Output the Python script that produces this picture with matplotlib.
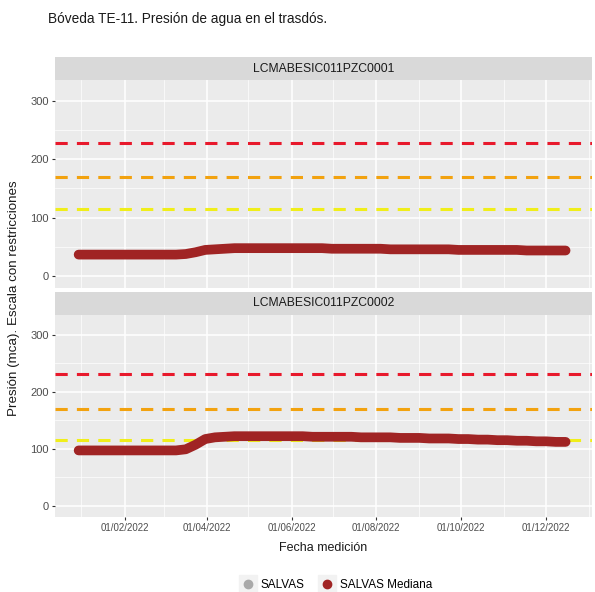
import matplotlib.pyplot as plt
import matplotlib.dates as mdates
import pandas as pd
from matplotlib.lines import Line2D
from matplotlib.legend_handler import HandlerTuple

plt.rcParams['font.family'] = ['Liberation Sans', 'DejaVu Sans']

# datos (lecturas semanales aproximadas)
fechas = pd.date_range("2021-12-30", periods=51, freq="7D")

sensores = ["LCMABESIC011PZC0001", "LCMABESIC011PZC0002"]

pzc0001 = [37, 37, 37, 37, 37, 37, 37, 37, 37, 37, 37, 38, 41, 45, 46, 47, 48,
           48, 48, 48, 48, 48, 48, 48, 48, 48, 47, 47, 47, 47, 47, 47, 46, 46,
           46, 46, 46, 46, 46, 45, 45, 45, 45, 45, 45, 45, 44, 44, 44, 44, 44]

pzc0002 = [97, 97, 97, 97, 97, 97, 97, 97, 97, 97, 97, 99, 107, 117, 120, 121,
           122, 122, 122, 122, 122, 122, 122, 122, 121, 121, 121, 121, 121, 120,
           120, 120, 120, 119, 119, 119, 118, 118, 118, 117, 117, 116, 116, 115,
           115, 114, 114, 113, 113, 112, 112]

# umbrales: rojo, naranja, amarillo
umbrales = {
    "LCMABESIC011PZC0001": [228, 170, 115],
    "LCMABESIC011PZC0002": [231, 170, 115],
}
colores_umbral = ["#e8192c", "#f2a20f", "#f0ee1a"]

series = [pzc0001, pzc0002]

fig = plt.figure(figsize=(5.95, 5.92), dpi=100)

W, H = 595, 592
left, right = 55, 592
paneles = [(80, 288, 57), (315, 517, 292)]  # top, bottom, strip top

xmin = pd.Timestamp("2021-12-13")
xmax = pd.Timestamp("2023-01-03")

for i, (top, bottom, stop) in enumerate(paneles):
    ax = fig.add_axes([left / W, 1 - bottom / H, (right - left) / W, (bottom - top) / H])
    ax.set_facecolor("#ebebeb")
    for s in ax.spines.values():
        s.set_visible(False)
    ax.set_xlim(xmin, xmax)
    ax.set_ylim(-20, 335)
    ax.set_yticks([0, 100, 200, 300])
    ax.set_yticks([50, 150, 250], minor=True)
    ax.xaxis.set_major_locator(mdates.MonthLocator(bymonth=[2, 4, 6, 8, 10, 12]))
    ax.xaxis.set_minor_locator(mdates.MonthLocator(bymonth=[1, 3, 5, 7, 9, 11]))
    ax.xaxis.set_major_formatter(mdates.DateFormatter("%d/%m/%Y"))
    ax.grid(True, which="major", color="white", lw=1.1)
    ax.grid(True, which="minor", color="white", lw=0.5)
    ax.set_axisbelow(True)
    ax.tick_params(axis="both", which="major", length=2.5, color="#333333",
                   labelsize=8, labelcolor="#4d4d4d", pad=2)
    ax.tick_params(axis="both", which="minor", length=0)
    ax.tick_params(axis="x", labelsize=7)
    if i == 0:
        ax.tick_params(axis="x", labelbottom=False, length=0)

    for val, col in zip(umbrales[sensores[i]], colores_umbral):
        ax.axhline(val, color=col, lw=2.2, ls=(0, (4, 3)), zorder=2)

    ax.plot(fechas, series[i], color="#a9a9a9", lw=1, zorder=3)
    ax.plot(fechas, series[i], color="#a02424", lw=7, solid_capstyle="round", zorder=4)

    # franja del facet
    sax = fig.add_axes([left / W, 1 - top / H, (right - left) / W, (top - stop) / H])
    sax.set_facecolor("#d9d9d9")
    sax.set_xticks([])
    sax.set_yticks([])
    for s in sax.spines.values():
        s.set_visible(False)
    sax.text(0.5, 0.5, sensores[i], ha="center", va="center", fontsize=8.7,
             color="#1a1a1a", transform=sax.transAxes)

fig.text(48 / W, 1 - 19 / H, "Bóveda TE-11. Presión de agua en el trasdós.",
         fontsize=9.8, ha="left", va="center", color="#1a1a1a")
fig.text(14 / W, 1 - 298 / H, "Presión (mca). Escala con restricciones",
         rotation=90, fontsize=9.6, ha="center", va="center", color="#1a1a1a")
fig.text((left + right) / 2 / W, 1 - 548 / H, "Fecha medición",
         fontsize=9, ha="center", va="center", color="#1a1a1a")

fondo = Line2D([], [], marker="s", ls="", color="#f2f2f2", markersize=13)
handles = [
    (fondo, Line2D([], [], marker="o", ls="", color="#a9a9a9", markersize=6)),
    (fondo, Line2D([], [], marker="o", ls="", color="#a02424", markersize=6)),
]
leg = fig.legend(handles, ["SALVAS", "SALVAS Mediana"], loc="center",
                 bbox_to_anchor=(337 / W, 1 - 585 / H), ncol=2, frameon=False,
                 fontsize=8.5, handlelength=1.0, columnspacing=1.4, handletextpad=0.6,
                 handler_map={tuple: HandlerTuple(ndivide=1)})

fig.savefig("out.png", dpi=100)
